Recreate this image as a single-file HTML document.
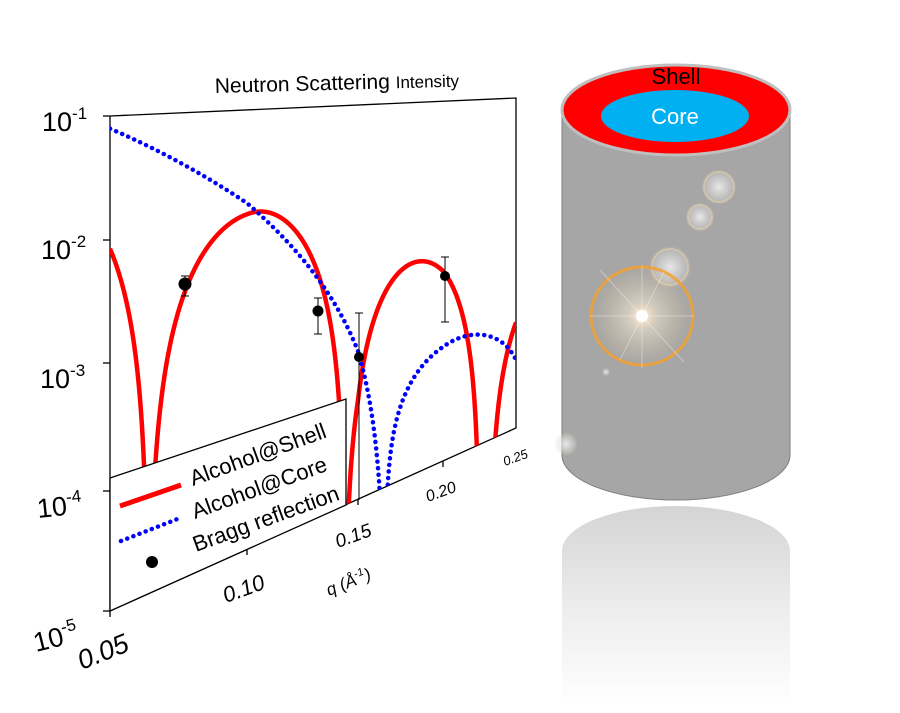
<!DOCTYPE html>
<html><head><meta charset="utf-8"><style>
html,body{margin:0;padding:0;background:#fff;width:900px;height:713px;overflow:hidden}
svg{display:block}
text{font-family:"Liberation Sans",Arial,sans-serif}
</style></head><body>
<svg id="s" width="900" height="713" viewBox="0 0 900 713" xmlns="http://www.w3.org/2000/svg">
<defs>
<linearGradient id="refl" x1="0" y1="0" x2="0" y2="1">
<stop offset="0" stop-color="#d4d4d4"/><stop offset="0.5" stop-color="#ececec"/><stop offset="1" stop-color="#ffffff"/></linearGradient>
<radialGradient id="glow"><stop offset="0" stop-color="#fff" stop-opacity="1"/><stop offset="0.35" stop-color="#f6ead6" stop-opacity="0.8"/><stop offset="1" stop-color="#e8c890" stop-opacity="0"/></radialGradient>
<radialGradient id="sglow"><stop offset="0" stop-color="#f0f0f0" stop-opacity="0.9"/><stop offset="0.7" stop-color="#ddd" stop-opacity="0.4"/><stop offset="1" stop-color="#e8d0a0" stop-opacity="0"/></radialGradient>
<clipPath id="plotclip"><polygon points="110,116 516,98 516,428 110,611"/></clipPath>
</defs>

<path d="M562,551 A114,45 0 0 1 790,551 L790,705 L562,705 Z" fill="url(#refl)"/>
<path d="M562,110 L562,455 A114,45 0 0 0 790,455 L790,110 Z" fill="#a6a6a6" stroke="#7f7f7f" stroke-width="1"/>
<ellipse cx="676" cy="110" rx="114" ry="45" fill="#ff0000" stroke="#bfbfbf" stroke-width="3"/>
<ellipse cx="675" cy="116" rx="74" ry="26" fill="#00b0f0"/>
<text x="676" y="84" font-size="22" text-anchor="middle" fill="#000">Shell</text>
<text x="675" y="124" font-size="22" text-anchor="middle" fill="#fff">Core</text>
<circle cx="719" cy="187" r="18" fill="url(#sglow)"/>
<circle cx="719" cy="187" r="15" fill="none" stroke="#e8d8b0" stroke-opacity="0.5" stroke-width="2"/>
<circle cx="700" cy="217" r="15" fill="url(#sglow)"/>
<circle cx="700" cy="217" r="12" fill="none" stroke="#e8d8b0" stroke-opacity="0.5" stroke-width="2"/>
<circle cx="670" cy="267" r="22" fill="url(#sglow)"/>
<circle cx="670" cy="267" r="18" fill="none" stroke="#e8d8b0" stroke-opacity="0.5" stroke-width="2"/>
<circle cx="566" cy="444" r="12" fill="url(#sglow)"/>
<circle cx="606" cy="372" r="4" fill="url(#sglow)"/>
<circle cx="642" cy="316" r="50" fill="url(#glow)" opacity="0.6"/>
<ellipse cx="642" cy="316" rx="51" ry="49" fill="none" stroke="#f5a030" stroke-width="3" opacity="0.85"/>
<circle cx="642" cy="316" r="16" fill="url(#glow)"/>
<circle cx="642" cy="316" r="6" fill="#fff"/>
<g stroke="#fff" stroke-opacity="0.35" stroke-width="1">
<line x1="600" y1="270" x2="684" y2="362"/><line x1="590" y1="316" x2="694" y2="316"/><line x1="620" y1="360" x2="664" y2="272"/><line x1="642" y1="265" x2="642" y2="368"/>
</g>

<text x="215" y="93" font-size="21" fill="#000" transform="rotate(-1.5 215 93)">Neutron Scattering <tspan font-size="17">Intensity</tspan></text>
<polyline points="110,116 516,98 516,428 110,611 110,116" fill="none" stroke="#000" stroke-width="1.3"/>
<g stroke="#000" stroke-width="1.3">
<line x1="103" y1="116" x2="110" y2="116"/><line x1="103" y1="240" x2="110" y2="240"/><line x1="103" y1="363" x2="110" y2="363"/><line x1="103" y1="491" x2="110" y2="491"/><line x1="103" y1="611" x2="110" y2="611"/>
<line x1="110" y1="611" x2="110" y2="617"/><line x1="247" y1="549" x2="247" y2="555"/><line x1="358" y1="499" x2="358" y2="505"/><line x1="443" y1="461" x2="443" y2="467"/>
</g>
<g id="curves" clip-path="url(#plotclip)"></g>
<g id="pts" stroke="#000" stroke-width="1" fill="#000">
<line x1="185" y1="276" x2="185" y2="296"/><line x1="181" y1="276" x2="189" y2="276"/><line x1="181" y1="296" x2="189" y2="296"/>
<circle cx="185" cy="284" r="6"/>
<line x1="318" y1="298" x2="318" y2="334"/><line x1="314" y1="298" x2="322" y2="298"/><line x1="314" y1="334" x2="322" y2="334"/>
<circle cx="318" cy="311" r="5"/>
<line x1="359" y1="313" x2="359" y2="500"/><line x1="355" y1="313" x2="363" y2="313"/>
<circle cx="359" cy="357" r="4.5"/>
<line x1="445" y1="257" x2="445" y2="322"/><line x1="441" y1="257" x2="449" y2="257"/><line x1="441" y1="322" x2="449" y2="322"/>
<circle cx="445" cy="276" r="4.5"/>
</g>
<polygon points="110,478 346,399 346,505 110,611" fill="#fff" stroke="#000" stroke-width="1.3"/>
<line x1="120" y1="506" x2="181" y2="485" stroke="#f00" stroke-width="5"/>
<line x1="121" y1="541" x2="180" y2="518" stroke="#00f" stroke-width="4.5" stroke-dasharray="0.1 6.5" stroke-linecap="round"/>
<circle cx="152" cy="562" r="6" fill="#000"/>
<g font-size="22" fill="#000">
<text x="193" y="486" transform="rotate(-20 193 486)">Alcohol@Shell</text>
<text x="195" y="519" transform="rotate(-20 195 519)">Alcohol@Core</text>
<text x="196" y="552" transform="rotate(-20 196 552)">Bragg reflection</text>
</g>
<g font-size="27" fill="#000">
<text x="42" y="131">10<tspan font-size="17" dy="-12">-1</tspan></text>
<text x="41" y="259">10<tspan font-size="17" dy="-12">-2</tspan></text>
<text x="40" y="388">10<tspan font-size="17" dy="-12">-3</tspan></text>
<text x="38" y="518" transform="rotate(-6 38 518)">10<tspan font-size="17" dy="-12">-4</tspan></text>
<text x="36" y="652" transform="rotate(-14 36 652)">10<tspan font-size="17" dy="-12">-5</tspan></text>
</g>
<g fill="#000" font-style="italic">
<text x="82" y="670" font-size="27" transform="rotate(-22 82 670)">0.05</text>
<text x="226" y="603" font-size="22" transform="rotate(-20 226 603)">0.10</text>
<text x="338" y="548" font-size="19" transform="rotate(-20 338 548)">0.15</text>
<text x="329" y="596" font-size="17" transform="rotate(-22 329 596)">q (Å<tspan font-size="11" dy="-7">-1</tspan><tspan dy="7">)</tspan></text>
<text x="428" y="502" font-size="16" transform="rotate(-20 428 502)">0.20</text>
<text x="505" y="466" font-size="13" transform="rotate(-20 505 466)">0.25</text>
</g>
</svg>
<script>
(function(){
var qs=[0.05,0.10,0.15,0.20,0.25], xs=[110,247,358,443,516];
function qx(q){for(var i=0;i<4;i++){if(q<=qs[i+1]||i==3){var f=(q-qs[i])/(qs[i+1]-qs[i]);return xs[i]+f*(xs[i+1]-xs[i]);}}}
function pt(q,L){var x=qx(q),t=(x-110)/406,yt=116-18*t,yb=611-183*t;if(L<-5.3)L=-5.3;return [x,yt+(-1-L)/4*(yb-yt)];}
function lg(v){return v<=1e-9?-9:Math.log10(v);}
function red(q){var s;
 if(q<0.064){s=Math.sin(Math.PI*(0.064-q)/0.08);return 0.031*s*s;}
 if(q<0.144){s=Math.sin(Math.PI*(q-0.064)/0.08);return 0.0115*s*s;}
 if(q<0.225){s=Math.sin(Math.PI*(q-0.144)/0.081);return 0.0019*s*s;}
 if(q<0.232)return 0;
 s=Math.sin(Math.PI*(q-0.232)/0.103);return 0.0007*s*s;}
function blue(q){
 if(q<0.166){var c=Math.cos(Math.PI/2*(q-0.05)/0.116);return 0.079*c*c*Math.pow(10,-10.6*(q-0.05));}
 return Math.pow(10,-3.69)*Math.abs(Math.sin(Math.PI*(q-0.166)/0.094));}
function path(fn){var d="",n=3000;for(var i=0;i<=n;i++){var q=0.05+0.2*i/n;var p=pt(q,lg(fn(q)));d+=(i?"L":"M")+p[0].toFixed(2)+","+p[1].toFixed(2);}return d;}
var g=document.getElementById("curves"),ns="http://www.w3.org/2000/svg";
var r=document.createElementNS(ns,"path");r.setAttribute("d",path(red));r.setAttribute("fill","none");r.setAttribute("stroke","#f00");r.setAttribute("stroke-width","4.5");g.appendChild(r);
var b=document.createElementNS(ns,"path");b.setAttribute("d",path(blue));b.setAttribute("fill","none");b.setAttribute("stroke","#00f");b.setAttribute("stroke-width","4.5");b.setAttribute("stroke-dasharray","0.1 6.5");b.setAttribute("stroke-linecap","round");g.appendChild(b);
})();
</script>
</body></html>
